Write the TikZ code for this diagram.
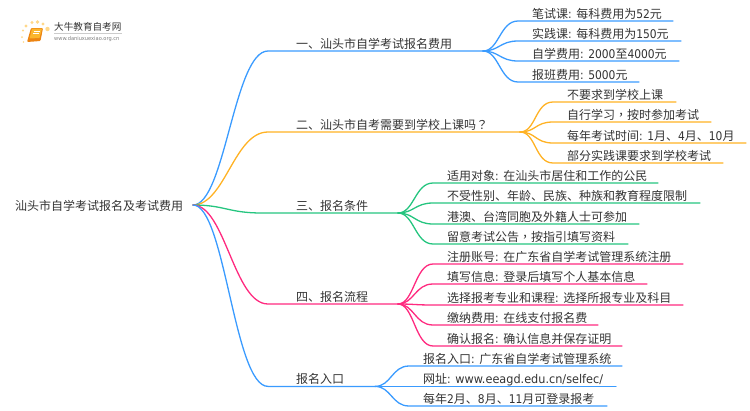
\documentclass[tikz,border=0pt]{standalone}
\usepackage{fontspec}
\setmainfont{Noto Sans CJK SC}
\newfontfamily\latinfont[FakeStretch=0.89]{DejaVu Sans}
\newfontfamily\urlfont[FakeStretch=0.94]{DejaVu Sans}
\newfontfamily\punctfont{Noto Sans CJK TC}
\newcommand{\lt}[1]{{\latinfont #1}}
\usepackage{tikz}
\usetikzlibrary{%
	calc,%
	positioning
}
\definecolor{lineblue}{HTML}{3A9BFF}
\definecolor{lineorange}{HTML}{FFB224}
\definecolor{linegreen}{HTML}{25C57F}
\definecolor{linepink}{HTML}{FF2A7F}
\definecolor{textgray}{HTML}{333333}
\definecolor{dotyellow}{HTML}{FFD88A}
\definecolor{bookdark}{HTML}{EC8412}
\definecolor{booklight}{HTML}{FBB62E}
\tikzset{
	label/.style={anchor=west, inner sep=0pt, text=textgray, font=\fontsize{12}{14}\selectfont},
	wire/.style={line width=1.3pt, line cap=round}
}
\begin{document}
\begin{tikzpicture}[x=1pt, y=-1pt]
	\useasboundingbox (0,0) rectangle (750,410);

	% logo
	\foreach \px/\py/\pr in {26/26/1.6, 32/22.5/1.7, 37.5/22/1.8, 43/24/1.7, 47.5/29/2.2, 23/30.5/1.2, 22/37/1, 23.5/42/.8}
		\fill[dotyellow] (\px,\py) circle (\pr);
	\fill[bookdark, rounded corners=1pt] (31,28) -- (43,28) -- (40.5,41) -- (27,42) -- cycle;
	\fill[booklight] (32,28.5) -- (42,28.5) -- (39.5,38) -- (29.5,38.5) -- cycle;
	\draw[white, line width=.6pt] (33.5,31) -- (39.5,31) (33,33.5) -- (39,33.5);
	\node[label, font=\fontsize{9.6}{11}\selectfont] (logotitle) at (54,27) {大牛教育自考网};
	\node[label, font=\fontsize{5.4}{6}\selectfont\urlfont, text=gray] (logourl) at (54,39) {www.daniuxuexiao.org.cn};
	\draw[gray!40, line width=.5pt] (54,33) -- (122,33);

	\node[label] (root) at (15,206) {汕头市自学考试报名及考试费用};
	\coordinate (rootend) at (193,205);

	% first level
	\foreach \nm/\col/\xs/\xe/\yy/\txt in {%
		one/lineblue/268/483/51/{一、汕头市自学考试报名费用},%
		two/lineorange/268/520/132/{二、汕头市自考需要到学校上课吗{\punctfont ？}},%
		three/linegreen/262/398/213/{三、报名条件},%
		four/linepink/268/398/304/{四、报名流程},%
		five/lineblue/268/375/386.4/{报名入口}}{
		\coordinate (\nm s) at (\xs,\yy);
		\coordinate (\nm e) at (\xe,\yy);
		\draw[wire, \col] (rootend) .. controls +(32,0) and +(-34,0) .. (\nm s) -- (\nm e);
		\node[label] (\nm) at ($(296,\yy)+(0,-7)$) {\txt};
	}

	% second level
	\foreach \nm/\yy/\xe/\txt in {%
		a/21/673/{笔试课\lt{: }每科费用为\lt{52}元},%
		b/41/681/{实践课\lt{: }每科费用为\lt{150}元},%
		c/61/679/{自学费用\lt{: 2000}至\lt{4000}元},%
		d/82/639/{报班费用\lt{: 5000}元}}{
		\coordinate (\nm s) at (518,\yy);
		\coordinate (\nm e) at (\xe,\yy);
		\draw[wire, lineblue] (onee) .. controls +(16,0) and +(-18,0) .. (\nm s) -- (\nm e);
		\node[label] (\nm) at ($(532,\yy)+(0,-7)$) {\txt};
	}
	\foreach \nm/\yy/\xe/\txt in {%
		e/102/676/{不要求到学校上课},%
		f/122/711/{自行学习{\punctfont ，}按时参加考试},%
		g/143/746/{每年考试时间\lt{: 1}月、\lt{4}月、\lt{10}月},%
		h/163/723/{部分实践课要求到学校考试}}{
		\coordinate (\nm s) at (553,\yy);
		\coordinate (\nm e) at (\xe,\yy);
		\draw[wire, lineorange] (twoe) .. controls +(16,0) and +(-18,0) .. (\nm s) -- (\nm e);
		\node[label] (\nm) at ($(567,\yy)+(0,-7)$) {\txt};
	}
	\foreach \nm/\yy/\xe/\txt in {%
		i/183/658/{适用对象\lt{: }在汕头市居住和工作的公民},%
		j/203/700/{不受性别、年龄、民族、种族和教育程度限制},%
		k/224/639/{港澳、台湾同胞及外籍人士可参加},%
		l/244/628/{留意考试公告{\punctfont ，}按指引填写资料}}{
		\coordinate (\nm s) at (433,\yy);
		\coordinate (\nm e) at (\xe,\yy);
		\draw[wire, linegreen] (threee) .. controls +(16,0) and +(-18,0) .. (\nm s) -- (\nm e);
		\node[label] (\nm) at ($(447,\yy)+(0,-7)$) {\txt};
	}
	\foreach \nm/\yy/\xe/\txt in {%
		m/264/683/{注册账号\lt{: }在广东省自学考试管理系统注册},%
		n/284/647/{填写信息\lt{: }登录后填写个人基本信息},%
		o/305/683/{选择报考专业和课程\lt{: }选择所报专业及科目},%
		p/325/598/{缴纳费用\lt{: }在线支付报名费},%
		q/346/622/{确认报名\lt{: }确认信息并保存证明}}{
		\coordinate (\nm s) at (433,\yy);
		\coordinate (\nm e) at (\xe,\yy);
		\draw[wire, linepink] (foure) .. controls +(16,0) and +(-18,0) .. (\nm s) -- (\nm e);
		\node[label] (\nm) at ($(447,\yy)+(0,-7)$) {\txt};
	}
	\foreach \nm/\yy/\xe/\txt in {%
		r/366/622/{报名入口\lt{: }广东省自学考试管理系统},%
		s/386.4/616/{网址{\latinfont : }{\urlfont www.eeagd.edu.cn/selfec/}},%
		t/406/607/{每年\lt{2}月、\lt{8}月、\lt{11}月可登录报考}}{
		\coordinate (\nm s) at (409,\yy);
		\coordinate (\nm e) at (\xe,\yy);
		\draw[wire, lineblue] (fivee) .. controls +(16,0) and +(-17,0) .. (\nm s) -- (\nm e);
		\node[label] (\nm) at ($(423,\yy)+(0,-7)$) {\txt};
	}
\end{tikzpicture}
\end{document}
